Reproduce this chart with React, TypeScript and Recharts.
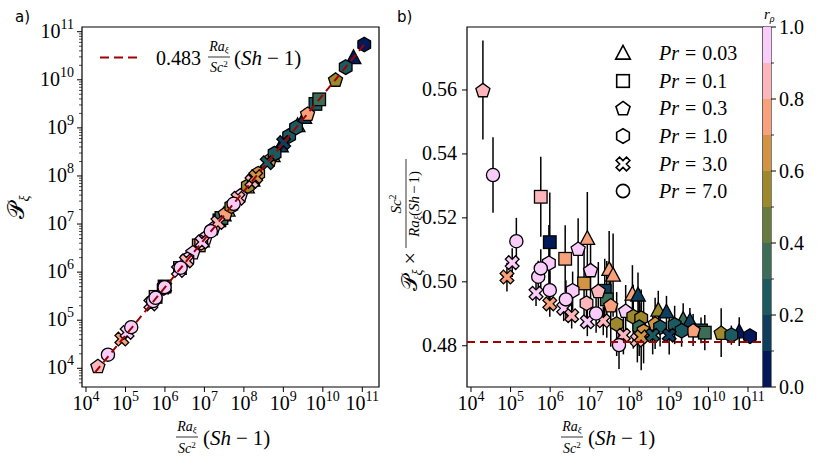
import React from 'react';
import { ScatterChart, Scatter, XAxis, YAxis, ErrorBar, ReferenceArea, BarChart, Bar } from 'recharts';

// ---------- data: [x = Ra/Sc^2 (Sh-1), ratio = P * Sc^2/(Ra (Sh-1)), error, r_rho]
const pr003: number[][] = [
  [8.7e6, 0.5136, 0.0145, 0.75],
  [3.1e7, 0.5039, 0.012, 0.75],
  [3.9e7, 0.5021, 0.013, 0.75],
  [1.2e8, 0.4962, 0.009, 0.75],
  [1.66e8, 0.4959, 0.007, 0.15],
  [5.4e8, 0.4912, 0.006, 0.55],
  [8.7e8, 0.4906, 0.005, 0.15],
  [2.3e9, 0.4883, 0.005, 0.35],
  [3.4e9, 0.4878, 0.004, 0.15],
  [6.0e10, 0.4844, 0.0045, 0.05],
];
const pr01: number[][] = [
  [5.8e5, 0.5266, 0.0125, 0.85],
  [9.8e5, 0.5124, 0.0155, 0.05],
  [2.4e6, 0.5072, 0.0105, 0.75],
  [7.2e6, 0.4995, 0.011, 0.65],
  [2.4e7, 0.4972, 0.01, 0.15],
  [2.7e7, 0.4945, 0.012, 0.35],
  [6.5e9, 0.4848, 0.004, 0.25],
  [8.1e9, 0.4841, 0.0055, 0.35],
];
const pr03: number[][] = [
  [2.0e4, 0.56, 0.0155, 0.85],
  [5.1e6, 0.5104, 0.0095, 0.95],
  [1.05e7, 0.5037, 0.009, 0.95],
  [1.65e7, 0.4972, 0.009, 0.85],
  [3.4e7, 0.4927, 0.013, 0.75],
  [8.1e7, 0.491, 0.008, 0.95],
  [1.8e8, 0.4888, 0.009, 0.65],
  [4.5e8, 0.487, 0.008, 0.65],
  [4.1e9, 0.4849, 0.005, 0.75],
  [2.1e10, 0.4841, 0.0076, 0.55],
];
const pr1: number[][] = [
  [9.3e5, 0.5058, 0.012, 0.95],
  [3.7e6, 0.4972, 0.006, 0.95],
  [8.3e6, 0.4933, 0.007, 0.85],
  [4.8e7, 0.4868, 0.01, 0.55],
  [1.26e8, 0.4891, 0.01, 0.55],
  [2.0e8, 0.4886, 0.009, 0.55],
  [1.78e8, 0.4858, 0.009, 0.35],
  [2.3e8, 0.4845, 0.01, 0.65],
  [6.0e8, 0.4858, 0.006, 0.25],
  [1.4e9, 0.4865, 0.006, 0.25],
  [2.1e9, 0.4847, 0.005, 0.25],
  [3.8e10, 0.4833, 0.003, 0.25],
  [1.12e11, 0.483, 0.002, 0.05],
];
const pr3: number[][] = [
  [8.1e4, 0.5015, 0.0045, 0.75],
  [1.1e5, 0.506, 0.0045, 0.95],
  [4.4e5, 0.4964, 0.004, 0.95],
  [9.8e5, 0.4931, 0.004, 0.75],
  [2.2e6, 0.4917, 0.004, 0.95],
  [3.5e6, 0.4894, 0.004, 0.85],
  [8.7e6, 0.4875, 0.0045, 0.95],
  [2.2e7, 0.4878, 0.0045, 0.85],
  [7.1e7, 0.4833, 0.006, 0.85],
  [1.6e8, 0.4818, 0.007, 0.85],
  [2.0e8, 0.4828, 0.0105, 0.65],
  [3.9e8, 0.4833, 0.006, 0.25],
  [1.02e9, 0.4833, 0.006, 0.15],
];
const pr7: number[][] = [
  [3.6e4, 0.5334, 0.0118, 0.95],
  [1.4e5, 0.5127, 0.0073, 0.95],
  [5.0e5, 0.5016, 0.005, 0.95],
  [5.8e5, 0.5042, 0.006, 0.95],
  [9.8e5, 0.4974, 0.006, 0.95],
  [2.5e6, 0.4945, 0.006, 0.95],
  [1.45e7, 0.4901, 0.006, 0.95],
  [5.5e7, 0.4802, 0.0075, 0.95],
];

const prLabels = ['0.03', '0.1', '0.3', '1.0', '3.0', '7.0'];
const prKinds = ['tri', 'sq', 'pent', 'hex', 'x', 'circ'];
const prRows = [pr003, pr01, pr03, pr1, pr3, pr7];

const fitCoef = 0.483;
const fitRangeA = [1.7e4, 1.1e11];
const bLineLevel = 0.4812;

const aXDecades = [4, 5, 6, 7, 8, 9, 10, 11];
const aYDecades = [3, 4, 5, 6, 7, 8, 9, 10, 11];
const bXDecades = [4, 5, 6, 7, 8, 9, 10, 11];
const bYTicks = [0.48, 0.5, 0.52, 0.54, 0.56];
const cbTicks = [0, 0.1, 0.2, 0.3, 0.4, 0.5, 0.6, 0.7, 0.8, 0.9, 1.0];
const batlow = ['#011959', '#0F3D5E', '#1C5A62', '#3C6D56', '#687B3E', '#9D892B', '#D29343', '#F8A17B', '#FDB7BC', '#FACCFA'];

const aXDomain = [Math.pow(10, 3.899), Math.pow(10, 11.423)];
const aYDomain = [Math.pow(10, 3.611), Math.pow(10, 11.098)];
const bXDomain = [Math.pow(10, 3.899), Math.pow(10, 11.379)];
const bYDomain = [0.4671, 0.5797];

const SERIF = "'Liberation Serif','Times New Roman',serif";
const RED = '#a00000';

const colorFor = (r: number) => batlow[Math.min(9, Math.floor(r * 10))];

const decadeTicks = (ds: number[]) => ds.map((d) => Math.pow(10, d));
const logTicksWithMinor = (ds: number[], dom: number[]) => {
  const out: number[] = [];
  ds.forEach((d) => {
    for (let k = 1; k <= 9; k++) {
      const v = k * Math.pow(10, d);
      if (v >= dom[0] && v <= dom[1]) out.push(v);
    }
  });
  return out;
};

// ---------- markers
function Marker({ kind, cx, cy, fill, sw = 1.3 }: any) {
  const common = { fill, stroke: '#000', strokeWidth: sw, strokeLinejoin: 'miter' as const };
  if (kind === 'circ') return <circle cx={cx} cy={cy} r={6.6} {...common} />;
  if (kind === 'sq') return <rect x={cx - 6.3} y={cy - 6.3} width={12.6} height={12.6} {...common} />;
  const poly = (pts: number[][]) => <polygon points={pts.map((p) => `${cx + p[0]},${cy + p[1]}`).join(' ')} {...common} />;
  if (kind === 'tri') return poly([[0, -7.6], [-7.3, 6.1], [7.3, 6.1]]);
  if (kind === 'pent' || kind === 'hex') {
    const n = kind === 'pent' ? 5 : 6;
    const R = kind === 'pent' ? 7.4 : 7.3;
    const pts: number[][] = [];
    for (let i = 0; i < n; i++) {
      const a = -Math.PI / 2 + (2 * Math.PI * i) / n;
      pts.push([R * Math.cos(a), R * Math.sin(a) + (kind === 'pent' ? 0.8 : 0)]);
    }
    return poly(pts);
  }
  // filled X
  const w = 2.4, L = 7.3;
  const base = [[-w, -L], [w, -L], [w, -w], [L, -w], [L, w], [w, w], [w, L], [-w, L], [-w, w], [-L, w], [-L, -w], [-w, -w]];
  const c = Math.cos(Math.PI / 4), s = Math.sin(Math.PI / 4);
  return poly(base.map(([x, y]) => [x * c - y * s, x * s + y * c]));
}

// ---------- ticks
const LogXTick = (p: any) => {
  const e = Math.round(Math.log10(p.payload.value));
  return (
    <g>
      <line x1={p.x} x2={p.x} y1={p.y} y2={p.y + 5} stroke="#000" strokeWidth={1} />
      <text x={p.x} y={p.y + 23} textAnchor="middle" fontFamily={SERIF} fontSize={20} fill="#000">
        10<tspan dy={-9} fontSize={14}>{e}</tspan>
      </text>
    </g>
  );
};
const LogYTick = (p: any) => {
  const v = p.payload.value;
  const lg = Math.log10(v);
  const e = Math.round(lg);
  const major = Math.abs(lg - e) < 1e-6;
  return (
    <g>
      <line x1={p.x - (major ? 5 : 3)} x2={p.x} y1={p.y} y2={p.y} stroke="#000" strokeWidth={major ? 1 : 0.7} />
      {major && (
        <text x={p.x - 8} y={p.y + 6} textAnchor="end" fontFamily={SERIF} fontSize={20} fill="#000">
          10<tspan dy={-9} fontSize={14}>{e}</tspan>
        </text>
      )}
    </g>
  );
};
const LinYTick = (p: any) => (
  <g>
    <line x1={p.x - 5} x2={p.x} y1={p.y} y2={p.y} stroke="#000" strokeWidth={1} />
    <text x={p.x - 10} y={p.y + 6.5} textAnchor="end" fontFamily={SERIF} fontSize={20} fill="#000">
      {Number(p.payload.value).toFixed(2)}
    </text>
  </g>
);
const CbTick = (p: any) => {
  const v = p.payload.value;
  const major = Math.round(v * 10) % 2 === 0;
  return (
    <g>
      <line x1={p.x} x2={p.x + (major ? 5 : 3)} y1={p.y} y2={p.y} stroke="#000" strokeWidth={major ? 1 : 0.8} />
      {major && (
        <text x={p.x + 8} y={p.y + 7} fontFamily={SERIF} fontSize={20} fill="#000">
          {v.toFixed(1)}
        </text>
      )}
    </g>
  );
};

const emptyShape = () => <g />;

function ChartA() {
  return (
    <ScatterChart width={400} height={456} margin={{ top: 27, right: 21, bottom: 0, left: 0 }}>
      <XAxis dataKey="x" type="number" scale="log" domain={aXDomain} allowDataOverflow ticks={decadeTicks(aXDecades)} interval={0}
        tickSize={0} tickMargin={0} height={69} axisLine={false} tickLine={false} tick={(p: any) => <LogXTick {...p} />} />
      <YAxis dataKey="y" type="number" scale="log" domain={aYDomain} allowDataOverflow ticks={logTicksWithMinor(aYDecades, aYDomain)} interval={0}
        tickSize={0} tickMargin={0} width={82} axisLine={false} tickLine={false} tick={(p: any) => <LogYTick {...p} />} />
      <ReferenceArea x1={aXDomain[0]} x2={aXDomain[1]} y1={aYDomain[0]} y2={aYDomain[1]} fill="none" fillOpacity={0} stroke="#000" strokeWidth={1.2} ifOverflow="visible" />
      {prRows.map((rows, gi) => (
        <Scatter key={gi} data={rows.map(([x, ratio, , r]) => ({ x, y: ratio * x, r }))} isAnimationActive={false}
          shape={(p: any) => <Marker kind={prKinds[gi]} cx={p.cx} cy={p.cy} fill={colorFor(p.payload.r)} />} />
      ))}
      <Scatter data={fitRangeA.map((x) => ({ x, y: fitCoef * x }))} isAnimationActive={false} shape={emptyShape}
        line={{ stroke: RED, strokeWidth: 2, strokeDasharray: '8 5' }} lineType="joint" />
    </ScatterChart>
  );
}

function ChartB() {
  return (
    <ScatterChart width={421} height={456} margin={{ top: 27, right: 58, bottom: 0, left: 0 }}>
      <XAxis dataKey="x" type="number" scale="log" domain={bXDomain} allowDataOverflow ticks={decadeTicks(bXDecades)} interval={0}
        tickSize={0} tickMargin={0} height={69} axisLine={false} tickLine={false} tick={(p: any) => <LogXTick {...p} />} />
      <YAxis dataKey="y" type="number" domain={bYDomain} allowDataOverflow ticks={bYTicks} interval={0}
        tickSize={0} tickMargin={0} width={67} axisLine={false} tickLine={false} tick={(p: any) => <LinYTick {...p} />} />
      <ReferenceArea x1={bXDomain[0]} x2={bXDomain[1]} y1={bYDomain[0]} y2={bYDomain[1]} fill="none" fillOpacity={0} stroke="#000" strokeWidth={1.2} ifOverflow="visible" />
      {prRows.map((rows, gi) => (
        <Scatter key={gi} data={rows.map(([x, ratio, err, r]) => ({ x, y: ratio, err, r }))} isAnimationActive={false}
          shape={(p: any) => <Marker kind={prKinds[gi]} cx={p.cx} cy={p.cy} fill={colorFor(p.payload.r)} />}>
          <ErrorBar dataKey="err" direction="y" width={0} stroke="#000" strokeWidth={1.5} />
        </Scatter>
      ))}
      <Scatter data={bXDomain.map((x) => ({ x, y: bLineLevel }))} isAnimationActive={false} shape={emptyShape}
        line={{ stroke: RED, strokeWidth: 2, strokeDasharray: '8 5' }} lineType="joint" />
    </ScatterChart>
  );
}

function ColorBar() {
  const row: any = { k: 'cb' };
  batlow.forEach((_, i) => (row['b' + i] = cbTicks[i + 1] - cbTicks[i]));
  return (
    <BarChart width={58} height={456} data={[row]} margin={{ top: 27, right: 0, bottom: 69, left: 0 }} barCategoryGap={0} barGap={0}>
      <XAxis dataKey="k" type="category" hide />
      <YAxis orientation="right" type="number" domain={[0, 1]} ticks={cbTicks} interval={0} width={50}
        tickSize={0} tickMargin={0} axisLine={false} tickLine={false} tick={(p: any) => <CbTick {...p} />} />
      {batlow.map((c, i) => (
        <Bar key={i} dataKey={'b' + i} stackId="s" fill={c} isAnimationActive={false} />
      ))}
      <ReferenceArea y1={0} y2={1} fill="none" fillOpacity={0} stroke="#000" strokeWidth={1} ifOverflow="visible" />
    </BarChart>
  );
}

// fraction label Ra_xi/Sc^2 (Sh - 1), as a single text element
function FracLabel({ fx, numY, denY, barY, mainX, mainY, fracSize, mainSize }: any) {
  return (
    <g fontFamily={SERIF} fill="#000">
      <text fontSize={fracSize}>
        <tspan x={fx} y={numY} textAnchor="middle" fontStyle="italic">Ra<tspan fontSize={fracSize * 0.65} dy={2}>ξ</tspan></tspan>
        <tspan x={fx} y={denY} textAnchor="middle" fontStyle="italic">Sc<tspan fontSize={fracSize * 0.65} dy={-5} fontStyle="normal">2</tspan></tspan>
        <tspan x={mainX} y={mainY} fontSize={mainSize}>(<tspan fontStyle="italic">Sh</tspan><tspan dx={5}>−</tspan><tspan dx={5}>1)</tspan></tspan>
      </text>
      <line x1={fx - 11} x2={fx + 11} y1={barY} y2={barY} stroke="#000" strokeWidth={0.8} />
    </g>
  );
}

function Overlay() {
  const legendRows = [53, 81, 108, 136, 164, 191];
  return (
    <svg width={821} height={456} style={{ position: 'absolute', left: 0, top: 0, pointerEvents: 'none' }}>
      <text x={15} y={22} fontFamily="'DejaVu Sans',sans-serif" fontSize={15} fill="#000">a)</text>
      <text x={397} y={22} fontFamily="'DejaVu Sans',sans-serif" fontSize={15} fill="#000">b)</text>

      {/* legend a */}
      <line x1={100} x2={138} y1={57.5} y2={57.5} stroke={RED} strokeWidth={2.2} strokeDasharray="9 5" />
      <text x={156} y={65} fontFamily={SERIF} fontSize={20} fill="#000">{fitCoef}</text>
      <FracLabel fx={219} numY={51} denY={72} barY={57} mainX={234} mainY={65} fracSize={14} mainSize={21} />

      <FracLabel fx={187} numY={431} denY={453} barY={437} mainX={203} mainY={445} fracSize={14} mainSize={21} />
      <FracLabel fx={572} numY={431} denY={453} barY={437} mainX={588} mainY={445} fracSize={14} mainSize={21} />

      {/* y label a */}
      <g transform="translate(24,207) rotate(-90)" fontFamily={SERIF} fill="#000">
        <text x={0} y={0} textAnchor="middle" fontSize={23}>
          <tspan fontFamily="'DejaVu Sans',serif">𝒫</tspan><tspan fontSize={14} dy={5} fontStyle="italic">ξ</tspan>
        </text>
      </g>

      {/* y label b */}
      <g transform="translate(409,204) rotate(-90)" fontFamily={SERIF} fill="#000">
        <text fontSize={15}>
          <tspan x={-48} y={8} textAnchor="end" fontSize={22}><tspan fontFamily="'DejaVu Sans',serif">𝒫</tspan><tspan fontSize={14} dy={5} fontStyle="italic">ξ</tspan><tspan dy={-5} dx={5}>×</tspan></tspan>
          <tspan x={0} y={-8} textAnchor="middle"><tspan fontStyle="italic">Sc</tspan><tspan fontSize={10} dy={-5}>2</tspan></tspan>
          <tspan x={0} y={10} textAnchor="middle"><tspan fontStyle="italic">Ra</tspan><tspan fontSize={10} dy={2} fontStyle="italic">ξ</tspan><tspan dy={-2}>(</tspan><tspan fontStyle="italic">Sh</tspan><tspan dx={2}>−</tspan><tspan dx={2}>1)</tspan></tspan>
        </text>
        <line x1={-44} x2={45} y1={-3} y2={-3} stroke="#000" strokeWidth={0.8} />
      </g>

      {/* legend b */}
      {prLabels.map((lab, i) => (
        <g key={i}>
          <Marker kind={prKinds[i]} cx={623} cy={legendRows[i]} fill="#fff" sw={1.6} />
          <text x={659} y={legendRows[i] + 7} fontFamily={SERIF} fontSize={20} fill="#000">
            <tspan fontStyle="italic">Pr</tspan><tspan dx={6}>=</tspan><tspan dx={6}>{lab}</tspan>
          </text>
        </g>
      ))}

      {/* colorbar label */}
      <text x={764} y={19} fontFamily={SERIF} fontSize={15} fill="#000">
        <tspan fontStyle="italic">r</tspan><tspan fontSize={10} dy={3} fontStyle="italic">ρ</tspan>
      </text>
    </svg>
  );
}

export default function App() {
  return (
    <div style={{ position: 'fixed', left: 0, top: 0, width: 821, height: 456, background: '#fff', overflow: 'hidden' }}>
      <div style={{ position: 'absolute', left: 0, top: 0 }}><ChartA /></div>
      <div style={{ position: 'absolute', left: 400, top: 0 }}><ChartB /></div>
      <div style={{ position: 'absolute', left: 763, top: 0 }}><ColorBar /></div>
      <Overlay />
    </div>
  );
}
